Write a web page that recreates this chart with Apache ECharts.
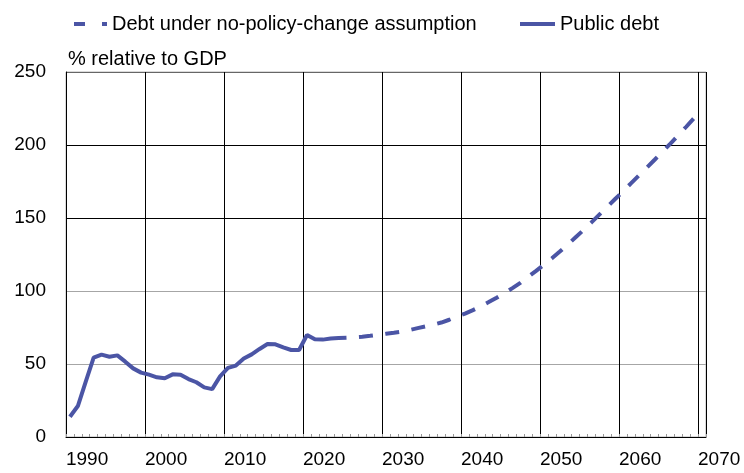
<!DOCTYPE html>
<html>
<head>
<meta charset="utf-8">
<script src="https://cdn.jsdelivr.net/npm/echarts@6/dist/echarts.min.js"></script>
<style>
  html, body { margin: 0; padding: 0; background: #fff; }
  #chart { width: 744px; height: 473px; }
</style>
</head>
<body>
<div id="chart"></div>
<script>
// years on the x axis
var years = [];
for (var y = 1990; y <= 2070; y++) years.push(String(y));

// public debt, 1990-2025 (% of GDP)
var debtYears = ['1990','1991','1992','1993','1994','1995','1996','1997','1998','1999',
  '2000','2001','2002','2003','2004','2005','2006','2007','2008','2009',
  '2010','2011','2012','2013','2014','2015','2016','2017','2018','2019',
  '2020','2021','2022','2023','2024','2025'];
var publicDebt = [13.9, 21.2, 38.0, 54.3, 56.4, 55.0, 55.9, 51.6, 47.0, 44.1,
  42.7, 40.9, 40.2, 42.9, 42.7, 39.7, 37.5, 34.0, 32.8, 41.5,
  47.3, 48.9, 53.7, 56.6, 60.3, 63.7, 63.5, 61.4, 59.6, 59.6,
  69.9, 66.9, 66.7, 67.4, 67.8, 68.0];

// projection under no-policy-change assumption, 2025-2069
var projYears = [];
for (var p = 2025; p <= 2069; p++) projYears.push(String(p));
var noPolicyDebt = [68.0, 68.3, 68.7, 69.3, 70.0, 70.7, 71.4, 72.2, 73.3, 74.6,
  75.8, 77.0, 78.4, 80.3, 82.5, 84.5, 86.9, 89.5, 92.4, 95.4,
  98.6, 102.0, 105.6, 109.7, 113.8, 118.0, 122.4, 127.0, 131.8, 136.8,
  141.8, 147.0, 152.3, 157.6, 163.0, 168.3, 173.7, 179.1, 184.5, 189.9,
  195.4, 201.0, 206.7, 212.5, 218.5];

var yTicks = [0, 50, 100, 150, 200, 250];

var seriesNames = ['Debt under no-policy-change assumption', 'Public debt'];

function alignTo(keys, vals) {
  return years.map(function (yr) {
    var i = keys.indexOf(yr);
    return i < 0 ? null : vals[i];
  });
}

var lineColor = '#4b55a5';
var font = '"Liberation Sans", Arial, sans-serif';
var noSymbol = { color: 'rgba(0,0,0,0)', borderWidth: 0, opacity: 0 };

var myChart = echarts.init(document.getElementById('chart'));
var option = {
  animation: false,
  textStyle: { fontFamily: font, color: '#000' },
  legend: [
    {
      left: 67, top: 9,
      itemWidth: 33, itemHeight: 14,
      textStyle: { fontSize: 20, color: '#000', fontFamily: font },
      data: [{ name: seriesNames[0], itemStyle: noSymbol, lineStyle: { width: 4, type: [11, 17], dashOffset: 0 } }]
    },
    {
      left: 513, top: 9,
      itemWidth: 35, itemHeight: 14,
      textStyle: { fontSize: 20, color: '#000', fontFamily: font },
      data: [{ name: seriesNames[1], itemStyle: noSymbol, lineStyle: { width: 4 } }]
    }
  ],
  grid: {
    left: 66, right: 38, top: 72, bottom: 36,
    show: true, borderColor: '#b4b4b4', borderWidth: 1
  },
  xAxis: {
    type: 'category',
    data: years,
    boundaryGap: true,
    axisLine: { lineStyle: { color: '#000', width: 1 } },
    axisTick: { show: true, inside: true, length: 3, interval: 0, lineStyle: { color: '#999' } },
    axisLabel: {
      interval: 9, align: 'left', margin: 13, padding: [0, 0, 0, -4],
      fontSize: 19, color: '#000', fontFamily: font
    },
    splitLine: { show: true, interval: 9, lineStyle: { color: '#000', width: 1 } }
  },
  yAxis: {
    type: 'value',
    min: yTicks[0], max: yTicks[yTicks.length - 1], interval: 50,
    name: '% relative to GDP',
    nameLocation: 'end',
    nameGap: 3,
    nameTextStyle: { align: 'left', fontSize: 20, color: '#000', fontFamily: font, padding: [0, 0, 0, 2] },
    axisLine: { show: true, lineStyle: { color: '#000', width: 1 } },
    axisTick: { show: false },
    axisLabel: { margin: 20, fontSize: 19, color: '#000', fontFamily: font },
    splitLine: {
      show: true,
      lineStyle: { color: ['#000', '#a6a6a6', '#a6a6a6', '#000', '#000', '#666'], width: 1 }
    }
  },
  series: [
    {
      name: seriesNames[0],
      type: 'line',
      data: alignTo(projYears, noPolicyDebt),
      symbol: 'none',
      color: lineColor,
      lineStyle: { color: lineColor, width: 4, type: [14, 12.5], dashOffset: 14 }
    },
    {
      name: seriesNames[1],
      type: 'line',
      data: alignTo(debtYears, publicDebt),
      symbol: 'none',
      color: lineColor,
      lineStyle: { color: lineColor, width: 4 }
    }
  ]
};
myChart.setOption(option);
</script>
</body>
</html>
